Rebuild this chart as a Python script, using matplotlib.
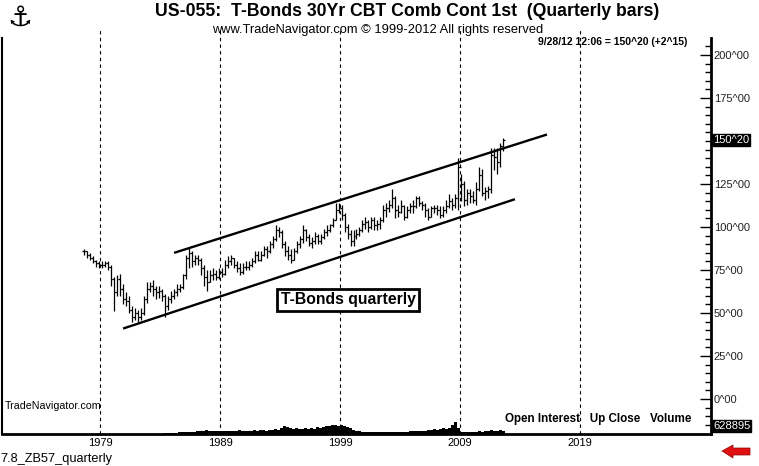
import numpy as np
import pandas as pd
import matplotlib
matplotlib.use("Agg")
import matplotlib.pyplot as plt
from matplotlib.patches import Polygon

plt.rcParams['font.family'] = ['Liberation Sans', 'DejaVu Sans']

# quarterly bars, 1977Q3 .. 2012Q3
quarters = pd.period_range('1977Q3', '2012Q3', freq='Q')

closes = [86, 84,
          82, 80, 79, 78,  78, 79, 77, 70,  62, 70, 64, 58,  57, 52, 48, 50,
          48, 50, 58, 64,  66, 64, 62, 63,  60, 54, 58, 60,  62, 64, 65, 72,
          82, 85, 80, 82,  81, 76, 71, 68,  72, 73, 71, 74,  73, 78, 80, 82,
          78, 76, 74, 77,  77, 78, 80, 84,  81, 84, 87, 86,  90, 93, 98, 97,
          90, 86, 84, 81,  86, 90, 93, 98,  94, 91, 92, 95,  92, 94, 97, 98,
          101, 104, 110, 111,  107, 100, 96, 92,  95, 96, 98, 102,  103, 100, 104, 101,
          102, 104, 110, 111,  113, 117, 110, 109,  112, 106, 110, 112,  112, 117, 114, 113,
          110, 106, 111, 111,  110, 107, 110, 112,  115, 113, 117, 135,  125, 116, 120, 118,
          116, 122, 130, 120,  121, 122, 142, 141,  138, 147, 150.625]
highs = [87, 86,
         85, 83, 81, 80,  80, 80, 80, 78,  71, 72, 73, 67,  62, 60, 54, 53,
         52, 53, 60, 68,  68, 69, 66, 66,  64, 61, 60, 63,  64, 67, 67, 73,
         84, 88, 86, 84,  84, 82, 78, 75,  75, 76, 75, 76,  76, 81, 83, 84,
         82, 80, 79, 79,  80, 80, 82, 86,  86, 86, 89, 89,  92, 95, 101, 100,
         98, 92, 89, 87,  88, 92, 95, 101,  99, 96, 94, 97,  96, 96, 99, 101,
         102, 105, 114, 114,  113, 108, 102, 98,  98, 99, 100, 104,  106, 104, 106, 106,
         104, 106, 113, 114,  116, 122, 118, 113,  116, 113, 112, 114,  116, 118, 118, 115,
         114, 111, 112, 113,  113, 112, 112, 116,  119, 117, 119, 140,  131, 127, 122, 122,
         121, 126, 135, 134,  123, 124, 146, 146,  146, 149, 152]
lows = [84, 82,
        81, 79, 77, 76,  76, 77, 75, 66,  51, 60, 60, 55,  54, 50, 45, 46,
        45, 46, 49, 56,  62, 60, 58, 59,  57, 48, 52, 56,  58, 60, 62, 64,
        70, 76, 77, 78,  78, 72, 66, 63,  68, 69, 69, 70,  71, 72, 76, 78,
        76, 74, 72, 73,  75, 75, 77, 79,  80, 80, 83, 82,  85, 88, 92, 94,
        88, 83, 81, 79,  81, 85, 88, 91,  92, 89, 88, 90,  90, 90, 93, 95,
        97, 100, 104, 108,  104, 97, 93, 89,  89, 93, 95, 97,  99, 97, 99, 98,
        98, 99, 103, 106,  109, 111, 105, 106,  108, 104, 105, 108,  108, 111, 112, 110,
        106, 104, 106, 108,  107, 105, 106, 108,  111, 110, 111, 110,  115, 112, 113, 114,
        114, 113, 121, 118,  116, 117, 120, 133,  131, 135, 144]

volume = [0] * 27 + [
    1, 1, 1.5,
    1.5, 1.5, 2, 2,  2, 2.5, 2, 2.5,  3, 3, 3.5, 4,  3, 3, 3.5, 3,
    3.5, 3.5, 3, 3.5,  3, 3.5, 4, 3,  3.5, 3, 3.5, 4,  3.5, 4, 4, 3.5,
    4, 4.5, 5, 4.5,  6, 8, 7, 6,  5, 6, 5, 5.5,  6, 5, 6, 5.5,
    7, 6, 7, 8,  8, 9, 9, 8,  9, 8, 7, 6,  4, 3, 3, 2.5,
    2, 2.5, 2, 2.5,  2, 2.5, 2, 2.5,  2, 2.5, 2, 2,  2.5, 2.5, 2, 3,
    3, 3.5, 3, 3.5,  3.5, 4, 4, 5,  4, 5, 6, 5,  6, 9, 12, 6,
    2, 2, 2, 2.5,  2, 2.5, 3, 2.5,  3, 3, 4, 3,  3.5, 4, 3.5]

# channel lines (year, price)
upper_x = [1985.17, 2016.25]
upper_y = [85.0, 153.8]
lower_x = [1980.92, 2013.58]
lower_y = [41.0, 116.2]

year_ticks = [1979, 1989, 1999, 2009, 2019]
price_ticks = [0, 25, 50, 75, 100, 125, 175, 200]
last_price = 150.625

t = np.array([q.year + (q.quarter - 1) * 0.25 + 0.125 for q in quarters])
opens = [closes[0]] + closes[:-1]

fig = plt.figure(figsize=(7.59, 4.66), dpi=100)
ax = fig.add_axes([2 / 759, 32 / 466, 709 / 759, 396 / 466])
ax.set_xlim(1970.83, 2029.92)
ax.set_ylim(-20.3, 209.9)

# volume underlay
axv = ax.twinx()
axv.bar(t, volume, width=0.19, color='black', linewidth=0)
axv.set_ylim(0, 400)
axv.set_yticks([])
for s in axv.spines.values():
    s.set_visible(False)
ax.set_zorder(axv.get_zorder() + 1)
ax.patch.set_visible(False)

# OHLC bars
ax.vlines(t, lows, highs, color='black', lw=0.9)
ax.hlines(opens, t - 0.09, t, color='black', lw=0.9)
ax.hlines(closes, t, t + 0.09, color='black', lw=0.9)

ax.plot(upper_x, upper_y, color='black', lw=1.7, solid_capstyle='butt')
ax.plot(lower_x, lower_y, color='black', lw=1.7, solid_capstyle='butt')

for yr in year_ticks:
    ax.axvline(yr, ymin=0, ymax=1.02, color='black', lw=0.8,
               ls=(0, (3, 3)), clip_on=False)

ax.set_xticks(year_ticks)
ax.set_xticklabels([str(y) for y in year_ticks], fontsize=8)
ax.tick_params(axis='x', length=0, pad=3)

ax.yaxis.tick_right()
ax.set_yticks(price_ticks)
ax.set_yticklabels([f"{p}^00" for p in price_ticks], fontsize=8, color='#222222')
ax.set_yticks(np.arange(-15, 210, 5), minor=True)
ax.tick_params(axis='y', which='major', direction='in', length=8, width=1, pad=2)
ax.tick_params(axis='y', which='minor', direction='in', length=4, width=1)

ax.spines['top'].set_visible(False)
ax.spines['right'].set_linewidth(2)
ax.spines['bottom'].set_linewidth(2)
ax.spines['left'].set_linewidth(1.5)

# last price box on axis
ax.text(1.003, (last_price + 20.3) / 230.2, "150^20", transform=ax.transAxes,
        fontsize=8, color='white', va='center', ha='left',
        bbox=dict(boxstyle='square,pad=0.1', fc='black', ec='black'))
ax.text(1.003, 0.02, "628895", transform=ax.transAxes,
        fontsize=8, color='white', va='center', ha='left',
        bbox=dict(boxstyle='square,pad=0.1', fc='black', ec='black'))

ax.text(1999.67, 57.6, "T-Bonds quarterly", fontsize=11.3, fontweight='bold',
        ha='center', va='center',
        bbox=dict(boxstyle='square,pad=0.25', fc='white', ec='black', lw=2))

ax.text(1971.1, -4, "TradeNavigator.com", fontsize=7.7, ha='left', va='center')
ax.text(2028.3, -11.5, "Open Interest   Up Close   Volume", fontsize=8.4,
        fontweight='bold', ha='right', va='center')

# logo stand-in
fig.text(20 / 759, 1 - 18 / 466, "\u2693", fontsize=20, family='DejaVu Sans',
         ha='center', va='center', color='black')

fig.text(407 / 759, 1 - 12 / 466, "US-055:  T-Bonds 30Yr CBT Comb Cont 1st  (Quarterly bars)",
         fontsize=12.7, fontweight='bold', ha='center', va='center')
fig.text(378 / 759, 1 - 30 / 466, "www.TradeNavigator.com \u00a9 1999-2012 All rights reserved",
         fontsize=9.3, ha='center', va='center')
fig.text(613 / 759, 1 - 42 / 466, "9/28/12 12:06 = 150^20 (+2^15)",
         fontsize=7.5, fontweight='bold', ha='center', va='center')
fig.text(0 / 759, 1 - 459 / 466, "7.8_ZB57_quarterly", fontsize=9.2,
         ha='left', va='center')

# red arrow below the axis
arrow = [(722, 451), (733, 445), (733, 448), (750, 448), (750, 455),
         (733, 455), (733, 458)]
fig.patches.append(Polygon([(x / 759, 1 - y / 466) for x, y in arrow],
                           closed=True, fc='#e01010', ec='#900000', lw=0.5,
                           transform=fig.transFigure, figure=fig))

fig.savefig("out.png", dpi=100)
